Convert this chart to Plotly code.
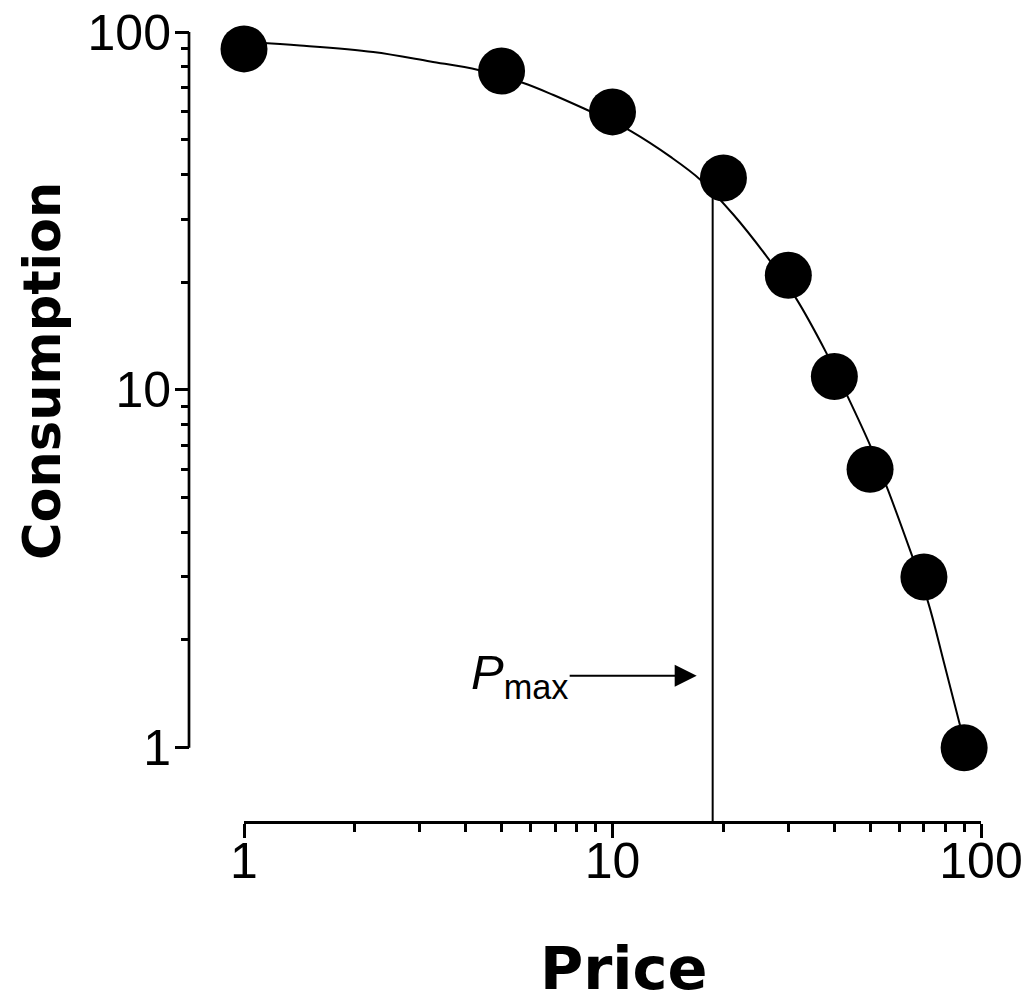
import math
import plotly.graph_objects as go

# Observed data
price = [1, 5, 10, 20, 30, 40, 50, 70, 90]
consumption = [89.7, 77.8, 59.8, 39.1, 20.9, 10.9, 6.0, 3.0, 1.0]

# Fitted demand curve
curve_price = [1.0, 1.419, 2.242, 3.203, 4.324, 5.731, 6.914, 8.661, 10.06, 11.19,
               14.38, 17.34, 21.33, 26.88, 31.43, 37.92, 43.51, 50.23, 55.88,
               63.72, 71.78, 79.33, 90.48]
curve_consumption = [93.78, 91.69, 87.94, 82.73, 78.31, 72.03, 66.68, 60.16, 56.06, 52.91,
                     44.76, 38.61, 30.8, 22.78, 18.07, 12.77, 9.56, 6.93, 5.26,
                     3.64, 2.56, 1.73, 1.02]

# Pmax
pmax = 18.7
pmax_consumption = 35.9

x_tickvals = [1, 10, 100]
x_ticktext = ["1", "10", "100"]
y_tickvals = [1, 10, 100]
y_ticktext = ["1", "10", "100"]
minor_vals = [2, 3, 4, 5, 6, 7, 8, 9, 20, 30, 40, 50, 60, 70, 80, 90]

y_bottom = 0.62

fig = go.Figure()

fig.add_trace(go.Scatter(
    x=curve_price, y=curve_consumption, mode="lines",
    line=dict(color="black", width=2, shape="spline", smoothing=1),
    hoverinfo="skip", showlegend=False))

fig.add_trace(go.Scatter(
    x=[pmax, pmax], y=[y_bottom, pmax_consumption], mode="lines",
    line=dict(color="black", width=2), hoverinfo="skip", showlegend=False))

fig.add_trace(go.Scatter(
    x=price, y=consumption, mode="markers",
    marker=dict(color="black", size=47, line=dict(width=0)),
    cliponaxis=False, showlegend=False))

tickfont = dict(family="Liberation Sans, Arial, sans-serif", size=50, color="black")

fig.update_layout(
    width=1029, height=1002,
    margin=dict(l=189, r=48, t=32, b=180, autoexpand=False),
    paper_bgcolor="white", plot_bgcolor="white",
    showlegend=False,
    xaxis=dict(
        type="log", range=[0, 2], domain=[55 / 792, 1],
        anchor="free", position=0, automargin=False,
        showline=True, linecolor="black", linewidth=2.7,
        showgrid=False, zeroline=False,
        ticks="outside", ticklen=14, tickwidth=2.7, tickcolor="black",
        tickmode="array", tickvals=x_tickvals, ticktext=x_ticktext,
        tickfont=tickfont, ticklabelstandoff=-20,
        minor=dict(tickmode="array", tickvals=minor_vals, ticks="outside",
                   ticklen=8, tickwidth=2.7, tickcolor="black", showgrid=False),
    ),
    yaxis=dict(
        type="log", range=[math.log10(y_bottom), 2], domain=[0, 1],
        anchor="free", position=0, automargin=False,
        showline=False, showgrid=False, zeroline=False,
        ticks="outside", ticklen=14, tickwidth=2.7, tickcolor="black",
        tickmode="array", tickvals=y_tickvals, ticktext=y_ticktext,
        tickfont=tickfont, ticklabelstandoff=-6,
        minor=dict(tickmode="array", tickvals=minor_vals, ticks="outside",
                   ticklen=8, tickwidth=2.7, tickcolor="black", showgrid=False),
    ),
)

# y-axis line from 1 to 100 only
fig.add_shape(type="line", xref="paper", yref="y", x0=0, x1=0,
              y0=y_tickvals[0], y1=y_tickvals[-1],
              line=dict(color="black", width=2.7), layer="above")

title_font = dict(family="DejaVu Sans, sans-serif", color="black")

fig.add_annotation(text="<b>Consumption</b>", xref="paper", yref="paper",
                   x=-0.1843, y=0.571, textangle=-90, showarrow=False,
                   xanchor="center", yanchor="middle",
                   font=dict(size=51, **title_font))
fig.add_annotation(text="<b>Price</b>", xref="paper", yref="paper",
                   x=0.549, y=-0.185, showarrow=False,
                   xanchor="center", yanchor="middle",
                   font=dict(size=59, **title_font))

# Pmax label with arrow
arrow_y = math.log10(1.59)
fig.add_annotation(text="<i>P</i><sub>max</sub>", xref="x", yref="y",
                   x=math.log10(pmax), y=arrow_y, xshift=-16,
                   showarrow=True, ax=-127, ay=0,
                   xanchor="right", yanchor="middle",
                   arrowhead=2, arrowsize=2.2, arrowwidth=2, arrowcolor="black",
                   font=dict(family="Liberation Sans, Arial, sans-serif", size=49, color="black"))

fig.write_html("out.html")
